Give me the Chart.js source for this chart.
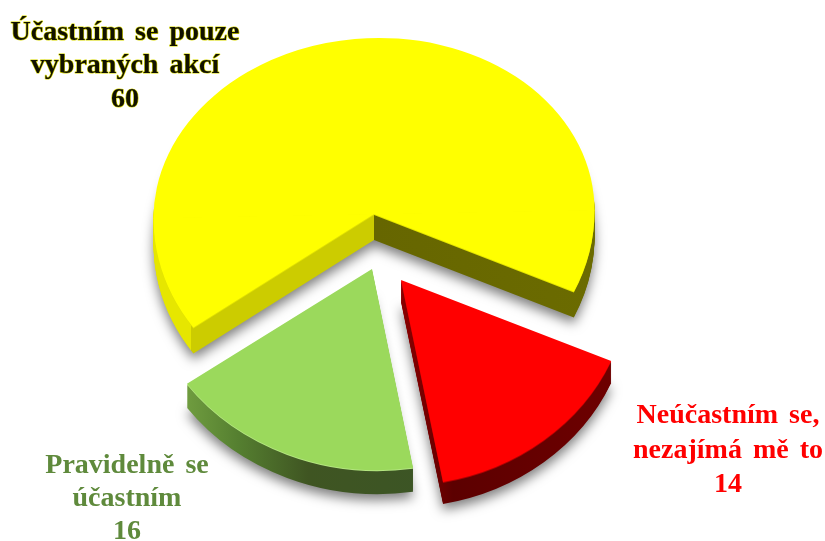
<!DOCTYPE html>
<html>
<head>
<meta charset="utf-8">
<style>
html,body{margin:0;padding:0;background:#fff;}
#wrap{width:825px;height:541px;}
canvas{display:block;}
</style>
<script src="https://cdn.jsdelivr.net/npm/chart.js@4"></script>
</head>
<body>
<div id="wrap"><canvas id="c" width="825" height="541"></canvas></div>
<script>
const categories = ['Účastním se pouze vybraných akcí', 'Neúčastním se, nezajímá mě to', 'Pravidelně se účastním'];
const values = [60, 14, 16];
const faceColors = ['#ffff00', '#ff0000', '#9bd95c'];
const labelColors = ['#111100', '#ff0000', '#5f8a3c'];
const labelLines = [
  ['Účastním se pouze', 'vybraných akcí'],
  ['Neúčastním se,', 'nezajímá mě to'],
  ['Pravidelně se', 'účastním']
];

/* Presentation only: how each slice is projected to look tilted and pulled apart */
const sliceViews = [
  {ax:374, ay:214, ux:220.5, uy:-4, vx:0, vy:192, vTop:176, depth:26, rim:'#e4e400',
   wall:[[0,'#e6e600'],[0.086,'#e6e600'],[0.086,'#cccc00'],[0.5,'#cccc00'],[0.5,'#666600'],[1,'#6b6b00']]},
  {ax:401, ay:280, ux:229, uy:-6.5, vx:6.3, vy:205.5, depth:22, rim:'#b00000',
   wall:[[0.5,'#8a0000'],[0.6,'#5c0000'],[1,'#700000']]},
  {ax:372, ay:269, ux:229.5, uy:0.7, vx:5.2, vy:201.2, depth:24, rim:'#b4e680',
   wall:[[0.09,'#6f9c3f'],[0.2,'#557f30'],[0.35,'#3f5522'],[0.6,'#3c5525']]}
];
const labelPlaces = [
  {x:125, y:[40,73,107]},
  {x:728, y:[423,458,492]},
  {x:127, y:[473,506,539]}
];

function place(ctx, arc, v, dy, vy) {
  const R = arc.outerRadius;
  ctx.translate(0, dy);
  ctx.transform(v.ux/R, v.uy/R, v.vx/R, vy/R,
    v.ax-(v.ux*arc.x+v.vx*arc.y)/R, v.ay-(v.uy*arc.x+vy*arc.y)/R);
}
function paint(ctx, arc, fill) {
  const saved = arc.options;
  const o = Object.create(saved);
  o.backgroundColor = fill;
  o.borderWidth = 0;
  arc.options = o;
  arc.draw(ctx);
  arc.options = saved;
}
function clipAbove(ctx, arc, lead) {
  ctx.beginPath();
  ctx.rect(-2000, arc.y - lead, 4000, 2000);
  ctx.clip();
}
function clipBelow(ctx, arc) {
  ctx.beginPath();
  ctx.rect(-2000, -2000, 4000, 2000 + arc.y + 0.6);
  ctx.clip();
}
function setShadow(ctx) {
  ctx.shadowColor = 'rgba(0,0,0,0.5)';
  ctx.shadowBlur = 12;
  ctx.shadowOffsetX = 0;
  ctx.shadowOffsetY = 6;
}
function drawSlice(ctx, arc, v) {
  const R = arc.outerRadius;
  const g = ctx.createLinearGradient(arc.x-R, 0, arc.x+R, 0);
  v.wall.forEach(s => g.addColorStop(s[0], s[1]));
  for (let d = v.depth; d >= 1; d--) {
    ctx.save();
    place(ctx, arc, v, d, v.vy);
    if (v.vTop && d < 18) clipAbove(ctx, arc, 14);
    if (d === v.depth) setShadow(ctx);
    paint(ctx, arc, d === 1 ? v.rim : g);
    ctx.restore();
  }
  ctx.save();
  place(ctx, arc, v, 0, v.vy);
  if (v.vTop) clipAbove(ctx, arc, 0);
  paint(ctx, arc, arc.options.backgroundColor);
  ctx.restore();
  if (v.vTop) {
    ctx.save();
    place(ctx, arc, v, 0, v.vTop);
    clipBelow(ctx, arc);
    paint(ctx, arc, arc.options.backgroundColor);
    ctx.restore();
  }
}

const tiltedSlices = {
  id: 'tiltedSlices',
  beforeDatasetsDraw(chart) {
    const ctx = chart.ctx;
    const arcs = chart.getDatasetMeta(0).data;
    [0, 2, 1].forEach(i => drawSlice(ctx, arcs[i], sliceViews[i]));
    return false;
  },
  afterDraw(chart) {
    const ctx = chart.ctx;
    ctx.save();
    ctx.font = 'bold 28px "Liberation Serif"';
    ctx.textAlign = 'center';
    ctx.textBaseline = 'alphabetic';
    ctx.wordSpacing = '4px';
    ctx.lineJoin = 'round';
    categories.forEach((c, i) => {
      const lines = labelLines[i].concat(String(values[i]));
      lines.forEach((t, k) => {
        if (i === 0) {
          ctx.strokeStyle = '#d8d800';
          ctx.lineWidth = 1.2;
          ctx.strokeText(t, labelPlaces[i].x, labelPlaces[i].y[k]);
        }
        ctx.fillStyle = labelColors[i];
        ctx.fillText(t, labelPlaces[i].x, labelPlaces[i].y[k]);
      });
    });
    ctx.restore();
  }
};

new Chart(document.getElementById('c'), {
  type: 'pie',
  data: {
    labels: categories,
    datasets: [{data: values, backgroundColor: faceColors, borderWidth: 0}]
  },
  options: {
    responsive: false,
    animation: false,
    rotation: 235,
    layout: {padding: 0},
    plugins: {legend: {display: false}, tooltip: {enabled: false}}
  },
  plugins: [tiltedSlices]
});
</script>
</body>
</html>
